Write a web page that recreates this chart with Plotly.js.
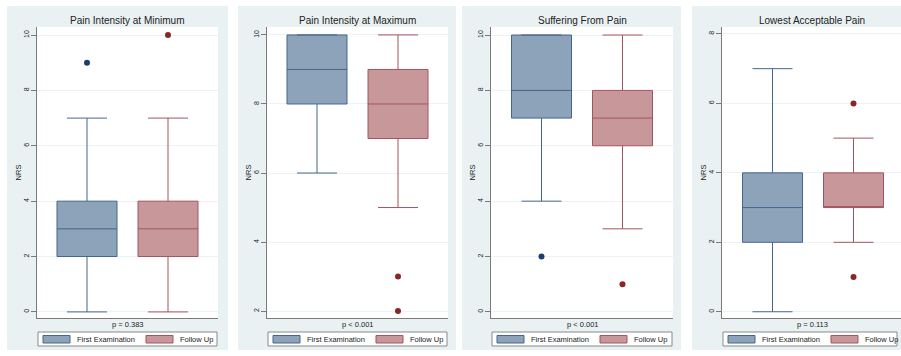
<!DOCTYPE html>
<html>
<head>
<meta charset="utf-8">
<script src="https://cdn.plot.ly/plotly-3.0.1.min.js"></script>
<style>html,body{margin:0;padding:0;background:#fff;}#chart{width:901px;height:356px;}</style>
</head>
<body>
<div id="chart"></div>
<script>
// ---- data ----
const panelTitles = ['Pain Intensity at Minimum', 'Pain Intensity at Maximum', 'Suffering From Pain', 'Lowest Acceptable Pain'];
const pValues = ['p = 0.383', 'p < 0.001', 'p < 0.001', 'p = 0.113'];
const groups = ['First Examination', 'Follow Up'];
const yAxisLabel = 'NRS';

const firstLow    = [0, 6, 4, 0];
const firstQ1     = [2, 8, 7, 2];
const firstMedian = [3, 9, 8, 3];
const firstQ3     = [4, 10, 10, 4];
const firstHigh   = [7, 10, 10, 7];
const firstOutliers = [[9], [], [2], []];

const followLow    = [0, 5, 3, 2];
const followQ1     = [2, 7, 6, 3];
const followMedian = [3, 8, 7, 3];
const followQ3     = [4, 9, 8, 4];
const followHigh   = [7, 10, 10, 5];
const followOutliers = [[10], [3, 2], [1], [6, 1]];

const yTickValues = [[0, 2, 4, 6, 8, 10], [2, 4, 6, 8, 10], [0, 2, 4, 6, 8, 10], [0, 2, 4, 6, 8]];

// ---- layout geometry (pixels) ----
const W = 901, H = 356;
const panels = [
  {bg: [7, 228], plot: [37, 218], c0: 87, yr: [-0.22, 10.29]},
  {bg: [238, 456], plot: [267, 448], c0: 317, yr: [1.8, 10.23]},
  {bg: [462, 681], plot: [491, 673], c0: 541.5, yr: [-0.22, 10.29]},
  {bg: [692, 901], plot: [722, 901], c0: 772.5, yr: [-0.18, 8.2]}
];
const plotTop = 27, plotBot = 318, bgTop = 6, bgBot = 350;
const unit = 81; // px between the two boxes
const px = v => v / W;
const py = v => 1 - v / H;

const colors = {
  bg: '#EAF1F3',
  fill: ['#8CA3BA', '#C8979A'],
  line: ['#45668A', '#A25560'],
  dot: ['#1B3F6E', '#8B2626'],
  axis: '#7a7a7a',
  grid: '#EDF2F4',
  text: '#222222'
};
const font = 'Liberation Sans, Arial, Helvetica, sans-serif';

const traces = [];
const shapes = [];
const annotations = [];
const layout = {
  width: W, height: H,
  margin: {l: 0, r: 0, t: 0, b: 0, pad: 0},
  paper_bgcolor: '#ffffff',
  plot_bgcolor: 'rgba(0,0,0,0)',
  showlegend: false,
  boxmode: 'overlay',
  font: {family: font, color: colors.text}
};

panels.forEach((p, i) => {
  const sfx = i === 0 ? '' : String(i + 1);
  const xa = 'x' + sfx, ya = 'y' + sfx;
  const L = p.plot[0], R = p.plot[1];
  const xr = [-(p.c0 - L) / unit, (R - p.c0) / unit];

  layout['xaxis' + sfx] = {
    domain: [px(L), px(R)], anchor: ya, range: xr,
    showline: true, linecolor: colors.axis, linewidth: 1,
    showticklabels: false, ticks: '', showgrid: false, zeroline: false, fixedrange: true
  };
  layout['yaxis' + sfx] = {
    domain: [py(plotBot), py(plotTop)], anchor: xa, range: p.yr,
    showline: true, linecolor: colors.axis, linewidth: 1,
    tickmode: 'array', tickvals: yTickValues[i], ticktext: yTickValues[i].map(String),
    ticks: 'outside', ticklen: 5, tickcolor: colors.axis, tickwidth: 1,
    ticklabelstandoff: -1,
    tickangle: -90, tickfont: {size: 7, family: font, color: colors.text},
    showgrid: true, gridcolor: colors.grid, gridwidth: 1, zeroline: false, fixedrange: true,
    title: {text: yAxisLabel, font: {size: 7.5, family: font, color: colors.text}, standoff: 0}
  };

  // panel background + white plot region
  shapes.push({type: 'rect', xref: 'paper', yref: 'paper', layer: 'below',
    x0: px(p.bg[0]), x1: px(p.bg[1]), y0: py(bgBot), y1: py(bgTop),
    fillcolor: colors.bg, line: {width: 0}});
  shapes.push({type: 'rect', xref: 'paper', yref: 'paper', layer: 'below',
    x0: px(L), x1: px(R), y0: py(plotBot), y1: py(plotTop),
    fillcolor: '#ffffff', line: {width: 0}});

  // boxes
  const stats = [
    {low: firstLow, q1: firstQ1, med: firstMedian, q3: firstQ3, high: firstHigh, out: firstOutliers},
    {low: followLow, q1: followQ1, med: followMedian, q3: followQ3, high: followHigh, out: followOutliers}
  ];
  stats.forEach((s, g) => {
    traces.push({
      type: 'box', name: groups[g], xaxis: xa, yaxis: ya,
      x: [g], q1: [s.q1[i]], median: [s.med[i]], q3: [s.q3[i]],
      lowerfence: [s.low[i]], upperfence: [s.high[i]],
      boxpoints: false, width: 60 / unit, whiskerwidth: 0.667,
      fillcolor: colors.fill[g], line: {color: colors.line[g], width: 1},
      showlegend: false, hoverinfo: 'y'
    });
    if (s.out[i].length) {
      traces.push({
        type: 'scatter', mode: 'markers', name: groups[g], xaxis: xa, yaxis: ya,
        x: s.out[i].map(() => g), y: s.out[i],
        marker: {color: colors.dot[g], size: 6, line: {width: 0}},
        showlegend: false, hoverinfo: 'y'
      });
    }
  });

  // title
  annotations.push({xref: 'paper', yref: 'paper', x: px((L + R) / 2), y: py(20),
    xanchor: 'center', yanchor: 'middle', showarrow: false, text: panelTitles[i],
    font: {size: 10, family: font, color: colors.text}});
  // p-value
  annotations.push({xref: 'paper', yref: 'paper', x: px((L + R) / 2 + 0.5), y: py(324.5),
    xanchor: 'center', yanchor: 'middle', showarrow: false, text: pValues[i],
    font: {size: 7.5, family: font, color: colors.text}});

  // legend (drawn as shapes + text)
  const lgR = Math.min(R - 1, 897);
  shapes.push({type: 'rect', xref: 'paper', yref: 'paper', layer: 'below',
    x0: px(L + 1), x1: px(lgR), y0: py(346), y1: py(332),
    fillcolor: '#ffffff', line: {color: '#8a8a8a', width: 1}});
  const symX = [L + 6, L + 109], txtX = [L + 38, L + 141];
  groups.forEach((gname, g) => {
    shapes.push({type: 'rect', xref: 'paper', yref: 'paper', layer: 'below',
      x0: px(symX[g]), x1: px(symX[g] + 27), y0: py(343), y1: py(335.5),
      fillcolor: colors.fill[g], line: {color: colors.line[g], width: 1}});
    annotations.push({xref: 'paper', yref: 'paper', x: px(txtX[g]), y: py(339.5),
      xanchor: 'left', yanchor: 'middle', showarrow: false, text: gname,
      font: {size: 7.5, family: font, color: colors.text}});
  });
});

layout.shapes = shapes;
layout.annotations = annotations;

Plotly.newPlot('chart', traces, layout, {displayModeBar: false, staticPlot: true});
</script>
</body>
</html>
